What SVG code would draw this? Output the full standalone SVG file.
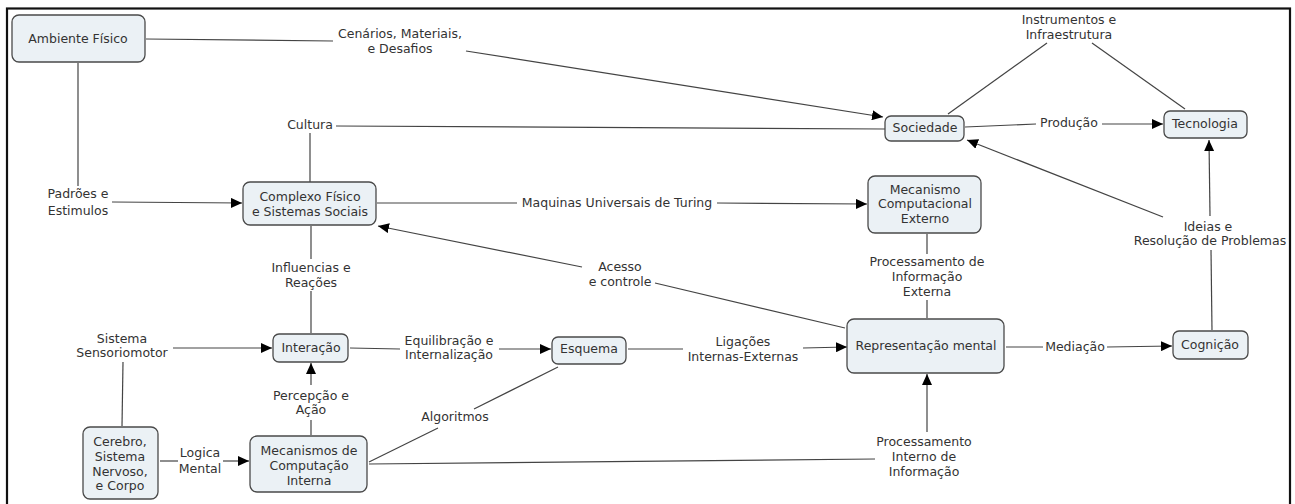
<svg xmlns="http://www.w3.org/2000/svg" width="1295" height="504" viewBox="0 0 1295 504">
<style>
.node rect{fill:#ebf1f5;stroke:#4a4a4a;stroke-width:1.3}
text{font-family:"DejaVu Sans",Verdana,sans-serif;font-size:12.5px;fill:#333;text-anchor:middle}
.c line{stroke:#444;stroke-width:1.2;fill:none}
.c .a{marker-end:url(#ah)}
</style>
<defs>
<marker id="ah" markerUnits="userSpaceOnUse" markerWidth="12" markerHeight="10" refX="11" refY="5" orient="auto">
<path d="M0,0 L11,5 L0,10 z" fill="#000"/>
</marker>
</defs>
<rect x="0" y="0" width="1295" height="504" fill="#fff"/>
<rect x="7" y="8.5" width="1283" height="520" fill="none" stroke="#111" stroke-width="2.2"/>

<g class="c" id="connectors">
<line x1="146" y1="39" x2="333" y2="41"/>
<line class="a" x1="466" y1="51" x2="883" y2="117"/>
<line x1="336" y1="126" x2="885" y2="129"/>
<line x1="310" y1="133" x2="310" y2="182"/>
<line x1="78" y1="63" x2="78" y2="186"/>
<line class="a" x1="112" y1="202" x2="242" y2="203"/>
<line x1="377" y1="203" x2="517" y2="203"/>
<line class="a" x1="717" y1="203" x2="867" y2="204"/>
<line x1="948" y1="114" x2="1047" y2="43"/>
<line x1="1092" y1="43" x2="1185" y2="109"/>
<line x1="965" y1="127" x2="1036" y2="124"/>
<line class="a" x1="1102" y1="124" x2="1163" y2="124"/>
<line class="a" x1="1210" y1="216" x2="1209" y2="140"/>
<line class="a" x1="1163" y1="217" x2="967" y2="140"/>
<line x1="1211" y1="250" x2="1212" y2="330"/>
<line x1="311" y1="226" x2="311" y2="259"/>
<line x1="311" y1="291" x2="311" y2="333"/>
<line class="a" x1="582" y1="267" x2="378" y2="226"/>
<line x1="655" y1="283" x2="845" y2="328"/>
<line x1="927" y1="234" x2="927" y2="254"/>
<line x1="927" y1="300" x2="927" y2="318"/>
<line class="a" x1="173" y1="348" x2="272" y2="348"/>
<line x1="123" y1="362" x2="122" y2="426"/>
<line x1="350" y1="348" x2="400" y2="349"/>
<line class="a" x1="499" y1="349" x2="551" y2="349"/>
<line x1="628" y1="349" x2="683" y2="349"/>
<line class="a" x1="803" y1="348" x2="847" y2="347"/>
<line x1="1006" y1="347" x2="1043" y2="347"/>
<line class="a" x1="1107" y1="347" x2="1172" y2="346"/>
<line x1="311" y1="435" x2="311" y2="420"/>
<line class="a" x1="311" y1="385" x2="311" y2="363"/>
<line x1="160" y1="461" x2="178" y2="461"/>
<line class="a" x1="223" y1="461" x2="249" y2="461"/>
<line x1="558" y1="367" x2="474" y2="409"/>
<line x1="438" y1="428" x2="369" y2="462"/>
<line x1="369" y1="464" x2="875" y2="459"/>
<line class="a" x1="927" y1="432" x2="927" y2="374"/>
</g>

<g id="labels">
<text x="400" y="38">Cenários, Materiais,</text>
<text x="400" y="53">e Desafios</text>
<text x="310" y="129">Cultura</text>
<text x="78" y="198">Padrões e</text>
<text x="78" y="215">Estimulos</text>
<text x="617" y="207">Maquinas Universais de Turing</text>
<text x="1069" y="24">Instrumentos e</text>
<text x="1069" y="39">Infraestrutura</text>
<text x="1069" y="127">Produção</text>
<text x="1208" y="231">Ideias e</text>
<text x="1210" y="245">Resolução de Problemas</text>
<text x="311" y="272">Influencias e</text>
<text x="311" y="287">Reações</text>
<text x="620" y="271">Acesso</text>
<text x="620" y="286">e controle</text>
<text x="927" y="266">Processamento de</text>
<text x="927" y="281">Informação</text>
<text x="927" y="296">Externa</text>
<text x="122" y="343">Sistema</text>
<text x="122" y="357">Sensoriomotor</text>
<text x="449" y="345">Equilibração e</text>
<text x="449" y="359">Internalização</text>
<text x="743" y="346">Ligações</text>
<text x="743" y="361">Internas-Externas</text>
<text x="1075" y="351">Mediação</text>
<text x="311" y="400">Percepção e</text>
<text x="311" y="414">Ação</text>
<text x="200" y="457">Logica</text>
<text x="200" y="473">Mental</text>
<text x="455" y="421">Algoritmos</text>
<text x="924" y="446">Processamento</text>
<text x="924" y="461">Interno de</text>
<text x="924" y="476">Informação</text>
</g>

<g id="n-ambiente" class="node"><rect x="12" y="15" width="133" height="47" rx="7"/><text x="78" y="43">Ambiente Físico</text></g>
<g id="n-complexo" class="node"><rect x="243" y="182" width="133" height="43" rx="7"/><text x="310" y="201">Complexo Físico</text><text x="310" y="216">e Sistemas Sociais</text></g>
<g id="n-sociedade" class="node"><rect x="885" y="116" width="79" height="25" rx="6"/><text x="925" y="132">Sociedade</text></g>
<g id="n-tecnologia" class="node"><rect x="1164" y="111" width="83" height="27" rx="6"/><text x="1205" y="128">Tecnologia</text></g>
<g id="n-mecext" class="node"><rect x="868" y="176" width="113" height="57" rx="7"/><text x="925" y="194">Mecanismo</text><text x="925" y="208">Computacional</text><text x="925" y="223">Externo</text></g>
<g id="n-interacao" class="node"><rect x="273" y="334" width="75" height="28" rx="6"/><text x="311" y="352">Interação</text></g>
<g id="n-esquema" class="node"><rect x="552" y="337" width="74" height="27" rx="6"/><text x="589" y="353">Esquema</text></g>
<g id="n-rep" class="node"><rect x="847" y="319" width="157" height="54" rx="7"/><text x="926" y="350">Representação mental</text></g>
<g id="n-cognicao" class="node"><rect x="1173" y="331" width="75" height="28" rx="6"/><text x="1210" y="349">Cognição</text></g>
<g id="n-cerebro" class="node"><rect x="83" y="427" width="75" height="72" rx="7"/><text x="120" y="446">Cerebro,</text><text x="120" y="461">Sistema</text><text x="120" y="476">Nervoso,</text><text x="120" y="490">e Corpo</text></g>
<g id="n-mecint" class="node"><rect x="250" y="436" width="117" height="56" rx="7"/><text x="309" y="455">Mecanismos de</text><text x="309" y="470">Computação</text><text x="309" y="485">Interna</text></g>
</svg>
